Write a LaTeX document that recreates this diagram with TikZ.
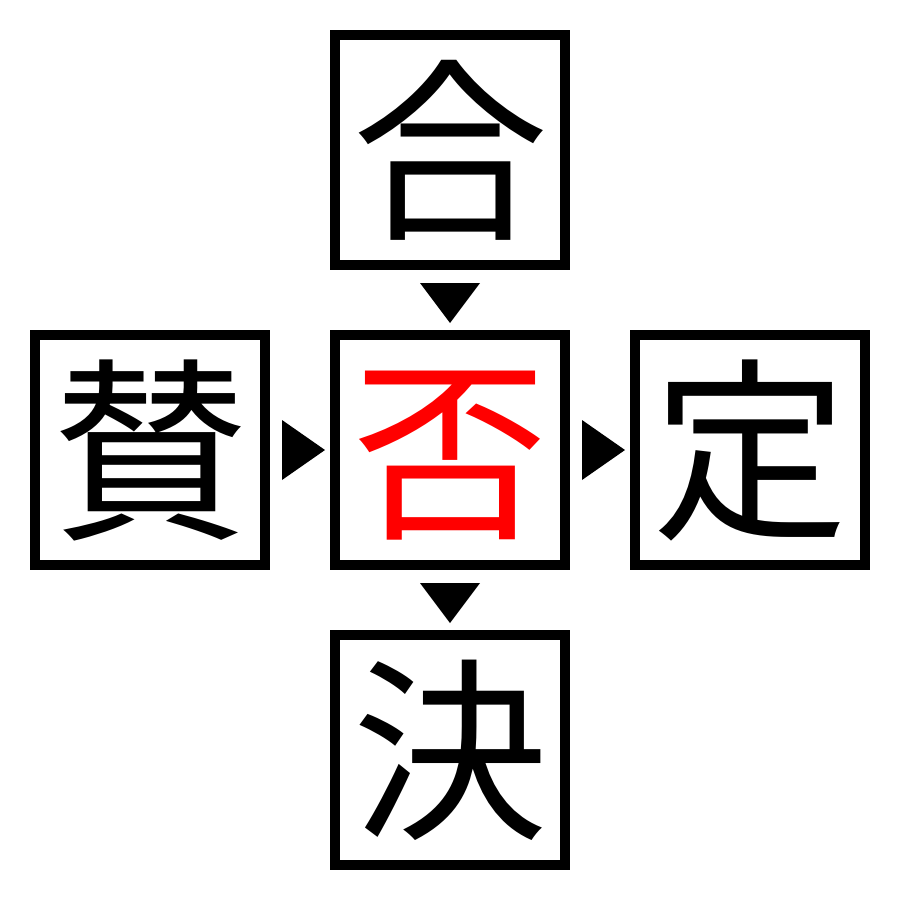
\documentclass[tikz,border=0pt]{standalone}
\usepackage{fontspec}
\newfontfamily\cjk{Noto Sans CJK JP}
\usetikzlibrary{calc}
\begin{document}
\begin{tikzpicture}[x=1pt,y=-1pt,
  kbox/.style={draw=black,line width=10pt,minimum size=230pt,inner sep=0pt,
    font=\cjk\fontsize{196}{196}\selectfont,text height=172pt,text depth=24pt},
  tri/.style={fill=black}]
\useasboundingbox (0,0) rectangle (900,900);
\node[kbox] (t) at (450,150) {合};
\node[kbox] (l) at (150,450) {賛};
\node[kbox,text=red] (c) at (450,450) {否};
\node[kbox] (r) at (750,450) {定};
\node[kbox] (b) at (450,750) {決};
\fill[tri] ($(l.east)+(12,-30)$) -- ($(l.east)+(12,30)$) -- ($(c.west)+(-5,0)$) -- cycle;
\fill[tri] ($(c.east)+(12,-30)$) -- ($(c.east)+(12,30)$) -- ($(r.west)+(-5,0)$) -- cycle;
\fill[tri] ($(t.south)+(-30,13)$) -- ($(t.south)+(30,13)$) -- ($(c.north)+(0,-7)$) -- cycle;
\fill[tri] ($(c.south)+(-30,13)$) -- ($(c.south)+(30,13)$) -- ($(b.north)+(0,-7)$) -- cycle;
\end{tikzpicture}
\end{document}
